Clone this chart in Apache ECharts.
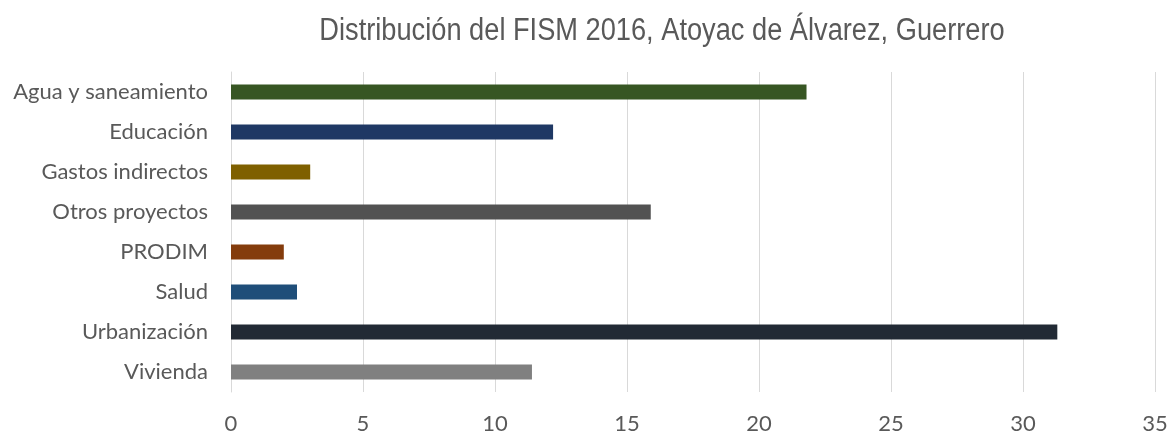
<!DOCTYPE html>
<html>
<head>
<meta charset="utf-8">
<script src="https://cdn.jsdelivr.net/npm/echarts@6/dist/echarts.min.js"></script>
<style>html,body{margin:0;padding:0;background:#fff}#c{width:1172px;height:435px}</style>
</head>
<body>
<div id="c"></div>
<script>
const categories = ["Agua y saneamiento","Educación","Gastos indirectos","Otros proyectos","PRODIM","Salud","Urbanización","Vivienda"];
const values = [21.8, 12.2, 3.0, 15.9, 2.0, 2.5, 31.3, 11.4];
const colors = ["#375623","#1f3864","#7f6000","#525252","#843c0c","#1f4e79","#222a35","#808080"];
const xTicks = [0,5,10,15,20,25,30,35];
const titleText = "Distribución del FISM 2016, Atoyac de Álvarez, Guerrero";

const chart = echarts.init(document.getElementById('c'), null, {renderer:'canvas'});
chart.setOption({
  animation:false,
  graphic:[{type:'text',x:662,y:31,scaleX:0.878,
    style:{text:titleText,align:'center',verticalAlign:'middle',
      font:'normal 31px "Liberation Sans", Arial, sans-serif',fill:'#595959'}}],
  grid:{left:231,right:17,top:72,bottom:43,containLabel:false},
  xAxis:{type:'value',min:xTicks[0],max:xTicks[xTicks.length-1],interval:5,
    axisLine:{show:false},axisTick:{show:false},
    splitLine:{lineStyle:{color:'#d9d9d9',width:1}},
    axisLabel:{margin:21,fontFamily:'Lato,"Open Sans",sans-serif',fontSize:22,color:'#595959'}},
  yAxis:{type:'category',data:categories,inverse:true,
    axisLine:{show:true,lineStyle:{color:'#d9d9d9'}},axisTick:{show:false},
    axisLabel:{margin:23,fontFamily:'Lato,"Open Sans",sans-serif',fontSize:22,color:'#595959'}},
  series:[{type:'bar',barWidth:15,
    data:values.map((v,i)=>({value:v,itemStyle:{color:colors[i]}}))}]
});
</script>
</body>
</html>
